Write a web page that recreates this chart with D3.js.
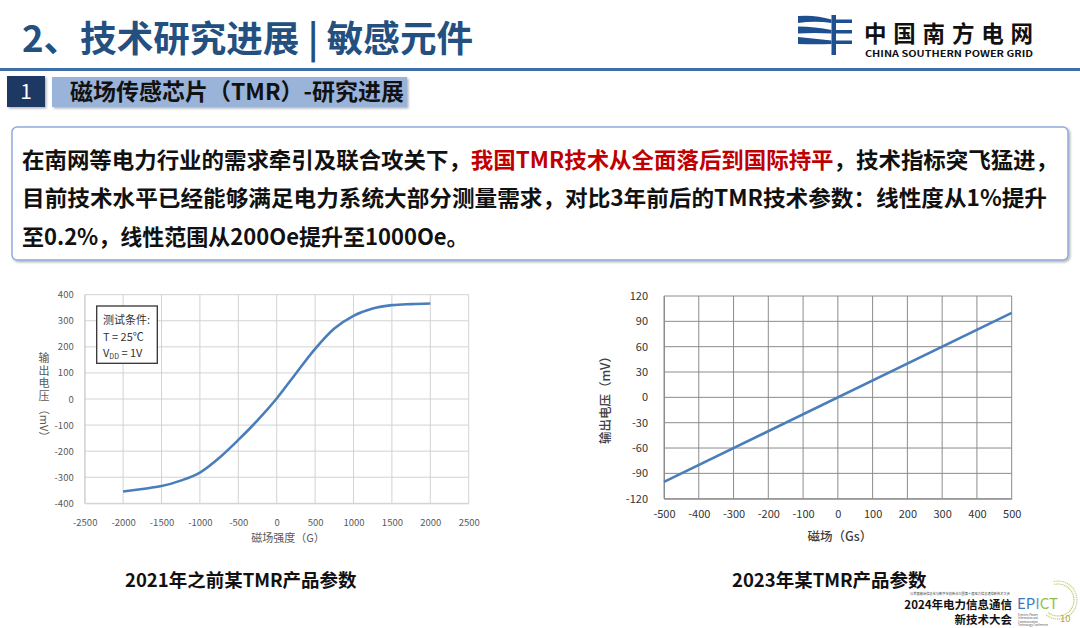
<!DOCTYPE html>
<html><head><meta charset="utf-8">
<script src="https://cdn.jsdelivr.net/npm/d3@7"></script>
<style>
html,body{margin:0;padding:0;background:#fff;}
svg{display:block;}
text{font-family:"Noto Sans CJK SC","Noto Sans",sans-serif;}
</style></head>
<body>
<svg id="c" width="1080" height="628"></svg>
<script>
// ---------- DATA ----------
const pageTitle = "2、技术研究进展 | 敏感元件";
const sectionNo = "1";
const sectionTitle = "磁场传感芯片（TMR）-研究进展";
const paraLine1 = [["在南网等电力行业的需求牵引及联合攻关下，","#111"],["我国TMR技术从全面落后到国际持平","#c00000"],["，技术指标突飞猛进，","#111"]];
const paraLine2 = "目前技术水平已经能够满足电力系统大部分测量需求，对比3年前后的TMR技术参数：线性度从1%提升";
const paraLine3 = "至0.2%，线性范围从200Oe提升至1000Oe。";

// Left chart (2021)
const leftField = [-2000,-1750,-1500,-1250,-1000,-750,-500,-250,0,250,500,750,1000,1250,1500,1750,2000];
const leftVolt  = [-355,-345,-334,-313,-282,-226,-157,-82,2,98,192,270,319,347,360,364,366];
const leftXTicks = [-2500,-2000,-1500,-1000,-500,0,500,1000,1500,2000,2500];
const leftYTicks = [-400,-300,-200,-100,0,100,200,300,400];
const leftXTitle = "磁场强度（G）";
const leftYTitleChars = "输出电压";
const leftYTitleUnit = "（mV）";
const legendLines = ["测试条件:","T = 25℃","V","DD"," = 1V"];
const leftCaption = "2021年之前某TMR产品参数";

// Right chart (2023)
const rightField = [-500,500];
const rightVolt  = [-100,100];
const rightXTicks = [-500,-400,-300,-200,-100,0,100,200,300,400,500];
const rightYTicks = [-120,-90,-60,-30,0,30,60,90,120];
const rightXTitle = "磁场（Gs）";
const rightYTitle = "输出电压（mV）";
const rightCaption = "2023年某TMR产品参数";

const logoCN = "中国南方电网";
const logoEN = "CHINA SOUTHERN POWER GRID";
const confTiny = "以首届能源信息化与数字化创新论坛暨第十届电力信息通信新技术大会";
const confLine1 = "2024年电力信息通信";
const confLine2 = "新技术大会";
const confEN = ["Electric Power","Information and","Communication","Technology Conference"];

// ---------- DRAW ----------
const fmt = d => String(d);
const svg = d3.select("#c");
svg.append("rect").attr("width",1080).attr("height",628).attr("fill","#fff");

// header
svg.append("text").attr("x",22).attr("y",52).attr("font-size",36.5).attr("font-weight",700)
  .attr("fill","#24507f").attr("textLength",451).attr("lengthAdjust","spacingAndGlyphs").text(pageTitle);
svg.append("line").attr("x1",0).attr("x2",1080).attr("y1",69.5).attr("y2",69.5)
  .attr("stroke","#3d6ea6").attr("stroke-width",3);

// logo symbol
const lg = svg.append("g");
lg.append("rect").attr("x",831.5).attr("y",15).attr("width",4.5).attr("height",40).attr("fill","#1d4f91");
[[0,21],[1,31.5],[2,42]].forEach(([i,y])=>{
  lg.append("path").attr("d",`M798,${y-5} Q815,${y-5+ (i-1)*1.5} 831.5,${y-1.5} L831.5,${y+2} Q815,${y+1+(i-1)*1.5} 798,${y+2} Z`).attr("fill","#1d4f91");
  lg.append("rect").attr("x",836).attr("y",y-1.5).attr("width",16).attr("height",3.5).attr("fill","#1d4f91");
});
svg.append("text").attr("x",864).attr("y",41.5).attr("font-size",22.5).attr("font-weight",700)
  .attr("fill","#111").attr("textLength",169).attr("lengthAdjust","spacing").text(logoCN);
svg.append("text").attr("x",865).attr("y",56.5).attr("font-size",8.5).attr("font-weight",700)
  .attr("font-family","Liberation Sans, Arial, sans-serif")
  .attr("fill","#111").attr("textLength",168).attr("lengthAdjust","spacingAndGlyphs").text(logoEN);

// section bar
const defs = svg.append("defs");
const f = defs.append("filter").attr("id","sh").attr("x","-10%").attr("y","-10%").attr("width","130%").attr("height","140%");
f.append("feDropShadow").attr("dx",1.5).attr("dy",1.5).attr("stdDeviation",1.2).attr("flood-color","#000").attr("flood-opacity",0.3);
svg.append("rect").attr("x",7).attr("y",76).attr("width",38).attr("height",31).attr("fill","#1f3864").attr("filter","url(#sh)");
svg.append("text").attr("x",26).attr("y",99).attr("text-anchor","middle").attr("font-size",21)
  .attr("font-family","Liberation Sans, Arial, sans-serif").attr("fill","#fff").text(sectionNo);
svg.append("rect").attr("x",52).attr("y",77).attr("width",355).attr("height",30).attr("fill","#9ab3d9").attr("filter","url(#sh)");
svg.append("text").attr("x",70).attr("y",100).attr("font-size",23).attr("font-weight",700)
  .attr("fill","#111").attr("textLength",334).attr("lengthAdjust","spacingAndGlyphs").text(sectionTitle);

// paragraph box
svg.append("rect").attr("x",12).attr("y",127).attr("width",1056).attr("height",133).attr("rx",5)
  .attr("fill","#fff").attr("stroke","#8eaadb").attr("stroke-width",1.5).attr("filter","url(#sh)");
const t1 = svg.append("text").attr("x",22).attr("y",168).attr("font-size",22).attr("font-weight",700)
  .attr("textLength",1036).attr("lengthAdjust","spacingAndGlyphs");
paraLine1.forEach(([s,c])=>t1.append("tspan").attr("fill",c).text(s));
svg.append("text").attr("x",22).attr("y",206).attr("font-size",22).attr("font-weight",700).attr("fill","#111")
  .attr("textLength",1025).attr("lengthAdjust","spacingAndGlyphs").text(paraLine2);
svg.append("text").attr("x",22).attr("y",245).attr("font-size",22).attr("font-weight",700).attr("fill","#111")
  .text(paraLine3);

// ---------- LEFT CHART ----------
const lx = d3.scaleLinear().domain([-2500,2500]).range([84.7,468.7]);
const ly = d3.scaleLinear().domain([-400,400]).range([503.3,294.7]);
const L = svg.append("g");
L.append("g").selectAll("line").data(leftXTicks).join("line")
  .attr("x1",d=>lx(d)).attr("x2",d=>lx(d)).attr("y1",ly(400)).attr("y2",ly(-400))
  .attr("stroke","#d3d3d3").attr("stroke-width",1);
L.append("g").selectAll("line").data(leftYTicks).join("line")
  .attr("x1",lx(-2500)).attr("x2",lx(2500)).attr("y1",d=>ly(d)).attr("y2",d=>ly(d))
  .attr("stroke","#d3d3d3").attr("stroke-width",1);
const lyAxis = L.append("g").attr("transform",`translate(${lx(-2500)},0)`)
  .call(d3.axisLeft(ly).tickValues(leftYTicks).tickFormat(fmt).tickSize(0).tickPadding(11));
const lxAxis = L.append("g").attr("transform",`translate(0,${ly(-400)})`)
  .call(d3.axisBottom(lx).tickValues(leftXTicks).tickFormat(fmt).tickSize(0).tickPadding(16));
[lyAxis,lxAxis].forEach(a=>{
  a.select(".domain").attr("stroke","#d3d3d3");
  a.selectAll("text").attr("font-size",9.5).attr("fill","#595959").attr("font-family","Liberation Sans, Arial, sans-serif");
});
L.append("path").datum(leftField.map((x,i)=>[x,leftVolt[i]]))
  .attr("d",d3.line().x(d=>lx(d[0])).y(d=>ly(d[1])).curve(d3.curveMonotoneX))
  .attr("fill","none").attr("stroke","#4a7ebb").attr("stroke-width",2.6);
// legend box
L.append("rect").attr("x",96.7).attr("y",306).attr("width",60.6).attr("height",57.3)
  .attr("fill","#fff").attr("stroke","#333").attr("stroke-width",1.3);
L.append("text").attr("x",103).attr("y",324).attr("font-size",11).attr("fill","#333").text(legendLines[0]);
L.append("text").attr("x",103).attr("y",341).attr("font-size",11).attr("fill","#333").text(legendLines[1]);
const vt = L.append("text").attr("x",103).attr("y",357).attr("font-size",11).attr("fill","#333");
vt.append("tspan").text(legendLines[2]);
vt.append("tspan").attr("font-size",7).attr("dy",2).text(legendLines[3]);
vt.append("tspan").attr("dy",-2).text(legendLines[4]);
// axis titles (stacked characters + rotated unit)
const yct = L.append("text").attr("y",362).attr("text-anchor","middle").attr("font-size",11).attr("fill","#595959");
yct.selectAll("tspan").data(leftYTitleChars.split("")).join("tspan")
  .attr("x",44).attr("dy",(d,i)=>i===0?0:12.5).text(d=>d);
L.append("text").attr("transform","translate(40,423) rotate(90)").attr("text-anchor","middle")
  .attr("font-size",11).attr("fill","#595959").text(leftYTitleUnit);
L.append("text").attr("x",288).attr("y",542).attr("text-anchor","middle").attr("font-size",11)
  .attr("fill","#595959").text(leftXTitle);

// ---------- RIGHT CHART ----------
const rx = d3.scaleLinear().domain([-500,500]).range([664,1011.7]);
const ry = d3.scaleLinear().domain([-120,120]).range([498.7,296]);
const R = svg.append("g");
R.append("g").selectAll("line").data(rightXTicks).join("line")
  .attr("x1",d=>rx(d)).attr("x2",d=>rx(d)).attr("y1",ry(120)).attr("y2",ry(-120))
  .attr("stroke","#8c8c8c").attr("stroke-width",1);
R.append("g").selectAll("line").data(rightYTicks).join("line")
  .attr("x1",rx(-500)).attr("x2",rx(500)).attr("y1",d=>ry(d)).attr("y2",d=>ry(d))
  .attr("stroke","#8c8c8c").attr("stroke-width",1);
const ryAxis = R.append("g").attr("transform",`translate(${rx(-500)},0)`)
  .call(d3.axisLeft(ry).tickValues(rightYTicks).tickFormat(fmt).tickSize(0).tickPadding(16));
const rxAxis = R.append("g").attr("transform",`translate(0,${ry(-120)})`)
  .call(d3.axisBottom(rx).tickValues(rightXTicks).tickFormat(fmt).tickSize(0).tickPadding(12));
[ryAxis,rxAxis].forEach(a=>{
  a.select(".domain").attr("stroke","#8c8c8c");
  a.selectAll("text").attr("font-size",11).attr("fill","#333").attr("font-family","Liberation Sans, Arial, sans-serif");
});
R.append("path").datum(rightField.map((x,i)=>[x,rightVolt[i]]))
  .attr("d",d3.line().x(d=>rx(d[0])).y(d=>ry(d[1])))
  .attr("fill","none").attr("stroke","#4a7ebb").attr("stroke-width",2.6);
R.append("text").attr("transform","translate(610,397) rotate(-90)").attr("text-anchor","middle")
  .attr("font-size",12.5).attr("font-weight",500).attr("fill","#404040").text(rightYTitle);
R.append("text").attr("x",840).attr("y",541).attr("text-anchor","middle").attr("font-size",12.5)
  .attr("font-weight",500).attr("fill","#404040").text(rightXTitle);

// captions
svg.append("text").attr("x",125).attr("y",587).attr("font-size",18.5).attr("font-weight",700)
  .attr("fill","#111").text(leftCaption);
svg.append("text").attr("x",732).attr("y",587).attr("font-size",18.5).attr("font-weight",700)
  .attr("fill","#111").text(rightCaption);

// conference logo
svg.append("text").attr("x",910).attr("y",595).attr("font-size",3.2).attr("fill","#444")
  .attr("textLength",100).attr("lengthAdjust","spacingAndGlyphs").text(confTiny);
svg.append("text").attr("x",1012).attr("y",608.5).attr("text-anchor","end").attr("font-size",11.5).attr("font-weight",700)
  .attr("fill","#111").text(confLine1);
svg.append("text").attr("x",1012).attr("y",624).attr("text-anchor","end").attr("font-size",11.5).attr("font-weight",700)
  .attr("fill","#111").text(confLine2);
const eg = svg.append("g");
d3.range(0,40).forEach(i=>{
  const a = -Math.PI/2 + i*Math.PI*1.3/40 - 0.2;
  [16,19].forEach(r=>eg.append("circle").attr("cx",1058+r*Math.cos(a)).attr("cy",600+r*Math.sin(a)).attr("r",0.7).attr("fill","#c2cf78"));
});
const ep = eg.append("text").attr("x",1017).attr("y",609).attr("font-size",15).attr("font-family","Liberation Sans, Arial, sans-serif")
  .attr("textLength",41).attr("lengthAdjust","spacingAndGlyphs");
ep.append("tspan").attr("fill","#3a78c2").text("EP");
ep.append("tspan").attr("fill","#5a9bd0").text("I");
ep.append("tspan").attr("fill","#8fbf4d").text("CT");
eg.append("text").attr("x",1060).attr("y",622).attr("font-size",9.5).attr("font-family","Liberation Serif, serif")
  .attr("fill","#a9a53a").text("10");
confEN.forEach((s,i)=>
  eg.append("text").attr("x",1018).attr("y",615.5+i*3.6).attr("font-size",2.8).attr("fill","#555")
    .attr("textLength",s.length>16?30:20).attr("lengthAdjust","spacingAndGlyphs").text(s));
</script>
</body></html>
